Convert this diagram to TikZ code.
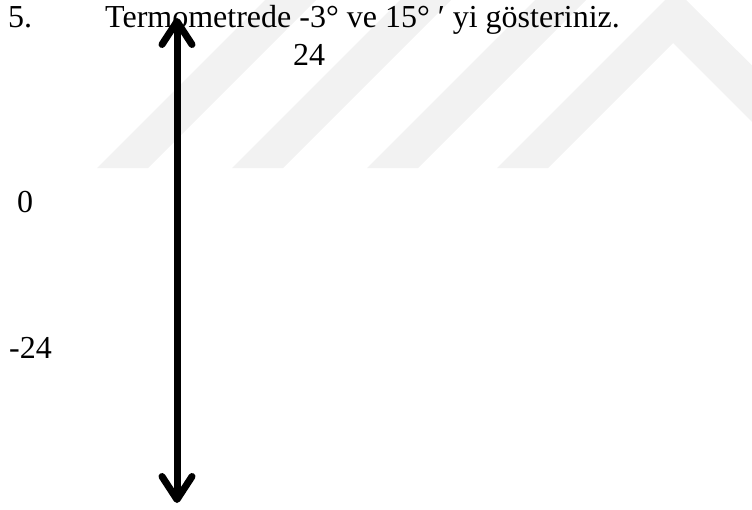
\documentclass[tikz,border=0pt]{standalone}
\usepackage{fontspec}
\setmainfont{Liberation Serif}
\usetikzlibrary{arrows.meta}
\begin{document}
\begin{tikzpicture}[x=1pt,y=-1pt,
  lbl/.style={anchor=base west,inner sep=0pt,font=\fontsize{32}{38}\selectfont},
  wm/.style={fill=black!5,draw=none},
  barb/.tip={Straight Barb[length=23pt,width=30pt,line cap=round,line join=round]},
  thermo/.style={line width=7pt,barb-barb}]
\useasboundingbox (0,0) rectangle (752,509);
\begin{scope}
\clip (0,0) rectangle (752,509);
\foreach \b in {97,232,367}{
  \fill[wm] (\b,168) -- (\b+51,168) -- (\b+51+190,-22) -- (\b+190,-22) -- cycle;
}
\fill[wm] (497,168) -- (548,168) -- (673,43) -- (800,170) -- (800,113) -- (675.5,-10.5) -- cycle;
\end{scope}
\node[lbl] (num) at (8,27) {5.};
\node[lbl] (title) at (105,27) {Termometrede -3° ve 15° ′ yi gösteriniz.};
\node[lbl] (top) at (293,65) {24};
\node[lbl] (zero) at (17,212) {0};
\node[lbl] (bottom) at (9,358) {-24};
\coordinate (up) at (177,18);
\coordinate (down) at (177,503);
\draw[thermo] (down) -- (up);
\end{tikzpicture}
\end{document}
